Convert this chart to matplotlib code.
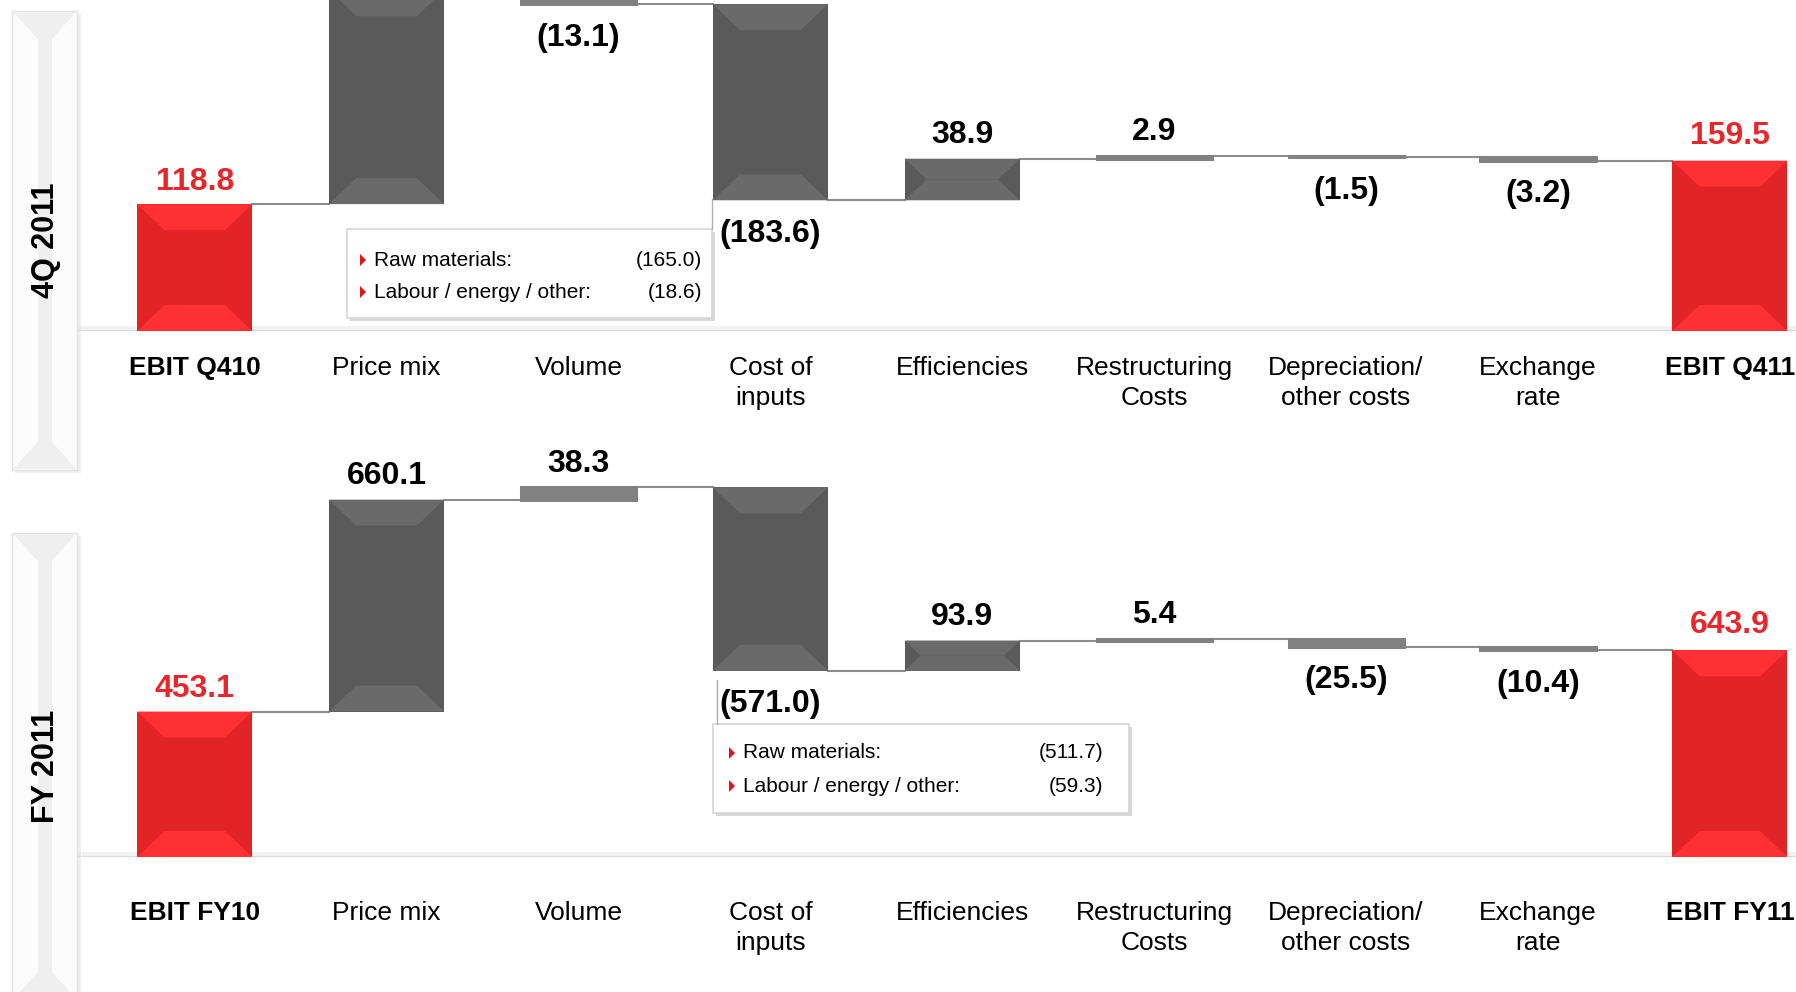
import matplotlib
matplotlib.use("Agg")
import matplotlib.pyplot as plt
from matplotlib.patches import Polygon, Rectangle

plt.rcParams['font.family'] = ['Liberation Sans', 'DejaVu Sans']

# ---- data -------------------------------------------------------------
q4_labels = ["EBIT Q410", "Price mix", "Volume", "Cost of\ninputs", "Efficiencies",
             "Restructuring\nCosts", "Depreciation/\nother costs", "Exchange\nrate", "EBIT Q411"]
q4_start = 118.8
q4_deltas = [200.3, -13.1, -183.6, 38.9, 2.9, -1.5, -3.2]
q4_end = 159.5
q4_inputs_names = ["Raw materials:", "Labour / energy / other:"]
q4_inputs_values = [-165.0, -18.6]

fy_labels = ["EBIT FY10", "Price mix", "Volume", "Cost of\ninputs", "Efficiencies",
             "Restructuring\nCosts", "Depreciation/\nother costs", "Exchange\nrate", "EBIT FY11"]
fy_start = 453.1
fy_deltas = [660.1, 38.3, -571.0, 93.9, 5.4, -25.5, -10.4]
fy_end = 643.9
fy_inputs_names = ["Raw materials:", "Labour / energy / other:"]
fy_inputs_values = [-511.7, -59.3]

# ---- styling ----------------------------------------------------------
W, H = 1796, 992
RED, RED_LIGHT, RED_TXT = "#e22427", "#fd3034", "#e8262b"
GREY, GREY_LIGHT, GREY_THIN = "#5a5a5a", "#6a6a6a", "#818181"
LINE = "#8c8c8c"
BAR_W = 0.6
PX_X = 191.9          # pixels per category
X0 = 194.7            # pixel centre of the first category


def fmt(v):
    return f"({abs(v):.1f})" if v < 0 else f"{v:.1f}"


def bevel_bar(ax, x, lo, hi, base, light, ppu_y):
    h_px = (hi - lo) * ppu_y
    if h_px < 14:
        # thin bars: flat mid grey with a small outline so they stay visible
        ax.bar(x, hi - lo, bottom=lo, width=BAR_W, color=GREY_THIN,
               edgecolor=GREY_THIN, linewidth=2.2, zorder=3)
        return
    ax.bar(x, hi - lo, bottom=lo, width=BAR_W, color=base, zorder=3, linewidth=0)
    bh_px = min(26, h_px / 2)
    bh = bh_px / ppu_y
    dx = bh_px * 1.05 / PX_X
    l, r = x - BAR_W / 2, x + BAR_W / 2
    ax.add_patch(Polygon([(l, hi), (r, hi), (r - dx, hi - bh), (l + dx, hi - bh)],
                         closed=True, fc=light, ec="none", zorder=4))
    ax.add_patch(Polygon([(l, lo), (r, lo), (r - dx, lo + bh), (l + dx, lo + bh)],
                         closed=True, fc=light, ec="none", zorder=4))


def waterfall(ax, labels, start, deltas, end, ppu_y, pad):
    n = len(labels)
    bevel_bar(ax, 0, 0, start, RED, RED_LIGHT, ppu_y)
    ax.annotate(fmt(start), (0, start), xytext=(0, 16), textcoords="offset points",
                ha="center", va="center", fontsize=23, fontweight="bold", color=RED_TXT)
    level = start
    for i, d in enumerate(deltas, start=1):
        new = level + d
        ax.plot([i - 1 + BAR_W / 2, i - BAR_W / 2], [level, level], color=LINE, lw=1.5, zorder=2)
        bevel_bar(ax, i, min(level, new), max(level, new), GREY, GREY_LIGHT, ppu_y)
        if d >= 0:
            ax.annotate(fmt(d), (i, new), xytext=(0, 17), textcoords="offset points",
                        ha="center", va="center", fontsize=23, fontweight="bold")
        else:
            ax.annotate(fmt(d), (i, new), xytext=(0, -24), textcoords="offset points",
                        ha="center", va="center", fontsize=23, fontweight="bold")
        level = new
    ax.plot([n - 2 + BAR_W / 2, n - 1 - BAR_W / 2], [level, level], color=LINE, lw=1.5, zorder=2)
    bevel_bar(ax, n - 1, 0, end, RED, RED_LIGHT, ppu_y)
    ax.annotate(fmt(end), (n - 1, end), xytext=(0, 18), textcoords="offset points",
                ha="center", va="center", fontsize=23, fontweight="bold", color=RED_TXT)

    # baseline with a soft shadow
    ax.axhline(0, xmin=78 / W, xmax=1, color="#f1f1f1", lw=7, zorder=1)
    ax.axhline(0, xmin=78 / W, xmax=1, color="#d8d8d8", lw=2, zorder=1)

    ax.set_xlim(-X0 / PX_X, (W - X0) / PX_X)
    ax.set_xticks(range(n))
    ax.set_xticklabels(labels, fontsize=19, linespacing=1.3)
    ax.get_xticklabels()[0].set_fontweight("bold")
    ax.get_xticklabels()[-1].set_fontweight("bold")
    ax.tick_params(axis="x", length=0, pad=pad)
    ax.set_yticks([])
    for s in ax.spines.values():
        s.set_visible(False)
    ax.patch.set_alpha(0)


fig = plt.figure(figsize=(W / 100, H / 100), dpi=100)

# top panel: zero at y=331 px, 1.068 px per unit
ppu_top = 1.068
ax1 = fig.add_axes([0, 1 - 331 / H, 1, 331 / H])
ax1.set_ylim(0, 331 / ppu_top)
waterfall(ax1, q4_labels, q4_start, q4_deltas, q4_end, ppu_top, pad=18)

# bottom panel: zero at y=857 px, 0.321 px per unit
ppu_bot = 0.321
ax2 = fig.add_axes([0, 1 - 857 / H, 1, 417 / H])
ax2.set_ylim(0, 417 / ppu_bot)
waterfall(ax2, fy_labels, fy_start, fy_deltas, fy_end, ppu_bot, pad=32)

# ---- overlay in pixel coordinates: side brackets and call-outs ---------
ov = fig.add_axes([0, 0, 1, 1], zorder=10)
ov.set_xlim(0, W)
ov.set_ylim(H, 0)
ov.set_axis_off()


def bracket(y0, y1, text):
    ov.add_patch(Rectangle((15, y0 + 3), 66, y1 - y0, fc="#e4e4e4", ec="none", alpha=0.6))
    ov.add_patch(Rectangle((12, y0), 65, y1 - y0, fc="#fcfcfc", ec="#e2e2e2", lw=1))
    cx, sw, fl = 45, 7, 28
    ov.add_patch(Polygon([(13, y0 + 1), (76, y0 + 1), (cx + sw, y0 + fl), (cx + sw, y1 - fl),
                          (76, y1 - 1), (13, y1 - 1), (cx - sw, y1 - fl), (cx - sw, y0 + fl)],
                         closed=True, fc="#efefef", ec="none"))
    ov.text(46, (y0 + y1) / 2, text, rotation=90, ha="center", va="center",
            fontsize=22, fontweight="bold")


bracket(11, 470, "4Q 2011")
bracket(533, 1000, "FY 2011")


def callout(x0, y0, x1, y1, names, values, rows_y, link, text_dx, val_dx):
    ov.add_patch(Rectangle((x0 + 3, y0 + 3), x1 - x0, y1 - y0, fc="#c8c8c8", ec="none", alpha=0.7))
    ov.add_patch(Rectangle((x0, y0), x1 - x0, y1 - y0, fc="white", ec="#d6d6d6", lw=1.2))
    ov.plot([link[0], link[0]], [link[1], y0], color="#b0b0b0", lw=1)
    for name, val, ry in zip(names, values, rows_y):
        ov.add_patch(Polygon([(x0 + text_dx - 14, ry - 6), (x0 + text_dx - 14, ry + 6),
                              (x0 + text_dx - 8, ry)], closed=True, fc="#e2141b", ec="none"))
        ov.text(x0 + text_dx, ry, name, ha="left", va="center", fontsize=15)
        ov.text(x1 - val_dx, ry, fmt(val), ha="right", va="center", fontsize=15)


callout(347, 229, 712, 318, q4_inputs_names, q4_inputs_values, [260, 292], (712, 199), 27, 10)
callout(713, 724, 1129, 813, fy_inputs_names, fy_inputs_values, [753, 786], (717, 680), 30, 26)

fig.savefig("out.png", dpi=100)
